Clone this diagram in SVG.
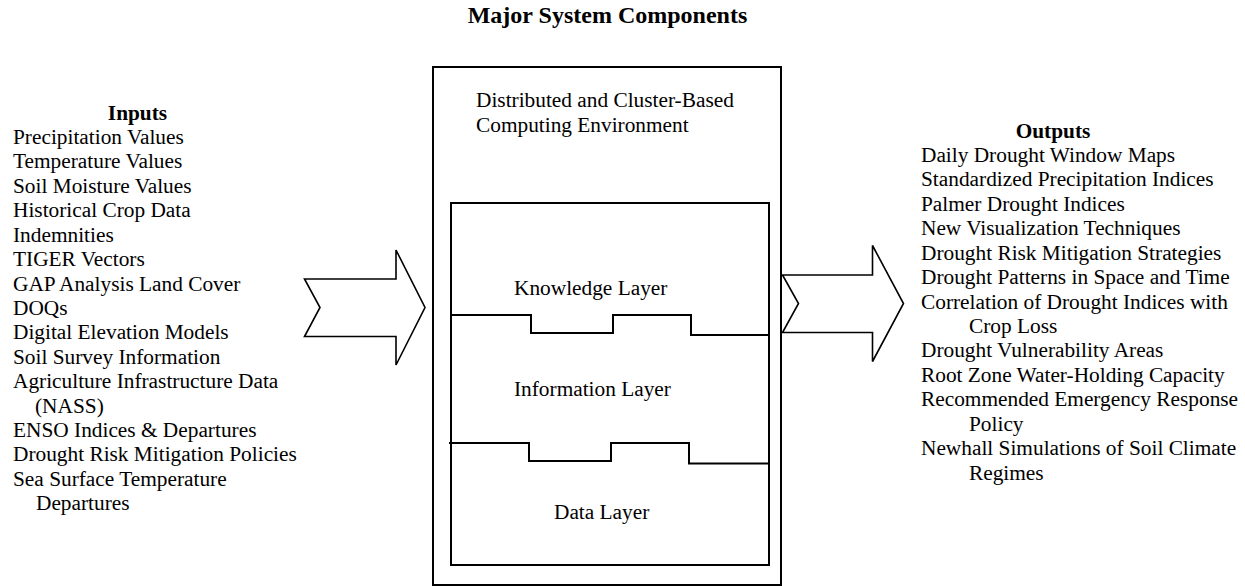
<svg xmlns="http://www.w3.org/2000/svg" width="1245" height="586" viewBox="0 0 1245 586">
<style>
text{font-family:"Liberation Serif","Times New Roman",serif;font-size:21.33px;fill:#000}
.b{font-weight:bold}
.box{fill:none;stroke:#000;stroke-width:2}
.arrow{fill:#fff;stroke:#000;stroke-width:1.6;stroke-linejoin:miter}
.layer{fill:none;stroke:#000;stroke-width:2}
</style>
<rect width="1245" height="586" fill="#fff"/>
<text id="title" class="b" x="607.5" y="23" text-anchor="middle" style="font-size:24px">Major System Components</text>

<g id="inputs">
<text class="b" x="137.5" y="119.5" text-anchor="middle">Inputs</text>
<text x="13" y="143.5">Precipitation Values</text>
<text x="13" y="168">Temperature Values</text>
<text x="13" y="192.5">Soil Moisture Values</text>
<text x="13" y="217">Historical Crop Data</text>
<text x="13" y="241.5">Indemnities</text>
<text x="13" y="266">TIGER Vectors</text>
<text x="13" y="290.5">GAP Analysis Land Cover</text>
<text x="13" y="314.5">DOQs</text>
<text x="13" y="339">Digital Elevation Models</text>
<text x="13" y="363.5">Soil Survey Information</text>
<text x="13" y="388">Agriculture Infrastructure Data</text>
<text x="35" y="412.5">(NASS)</text>
<text x="13" y="437">ENSO Indices &amp; Departures</text>
<text x="13" y="461">Drought Risk Mitigation Policies</text>
<text x="13" y="485.5">Sea Surface Temperature</text>
<text x="36" y="510">Departures</text>
</g>

<g id="system">
<rect class="box" x="433" y="67" width="348" height="518"/>
<text x="476" y="107">Distributed and Cluster-Based</text>
<text x="476" y="131.5">Computing Environment</text>
<rect class="box" x="451" y="203" width="318" height="362"/>
</g>

<g id="knowledge-layer">
<text x="514" y="295">Knowledge Layer</text>
</g>
<g id="information-layer">
<text x="514" y="396">Information Layer</text>
</g>
<g id="data-layer">
<text x="554" y="518.5">Data Layer</text>
</g>
<g id="layer-boundaries">
<polyline class="layer" points="451,315 531,315 531,333 613,333 613,315 691,315 691,335 769,335"/>
<polyline class="layer" points="449,443 529,443 529,461 611,461 611,443 689,443 689,463.5 768,463.5"/>
</g>

<g id="outputs">
<text class="b" x="1053" y="137.5" text-anchor="middle">Outputs</text>
<text x="921" y="161.5">Daily Drought Window Maps</text>
<text x="921" y="186">Standardized Precipitation Indices</text>
<text x="921" y="210.5">Palmer Drought Indices</text>
<text x="921" y="235">New Visualization Techniques</text>
<text x="921" y="259.5">Drought Risk Mitigation Strategies</text>
<text x="921" y="284">Drought Patterns in Space and Time</text>
<text x="921" y="308.5">Correlation of Drought Indices with</text>
<text x="969" y="333">Crop Loss</text>
<text x="921" y="357">Drought Vulnerability Areas</text>
<text x="921" y="381.5">Root Zone Water-Holding Capacity</text>
<text x="921" y="406">Recommended Emergency Response</text>
<text x="969" y="430.5">Policy</text>
<text x="921" y="455">Newhall Simulations of Soil Climate</text>
<text x="969" y="479.5">Regimes</text>
</g>

<g id="connectors">
<polygon class="arrow" points="304.5,279 396,279 396,250 425,307.5 396,365 396,336.5 304.5,336.5 320,307.5"/>
<polygon class="arrow" points="782.5,275 872.5,275 872.5,245.5 903.5,303.5 872.5,361.5 872.5,332.5 782.5,332.5 798.5,303.5"/>
</g>
</svg>
